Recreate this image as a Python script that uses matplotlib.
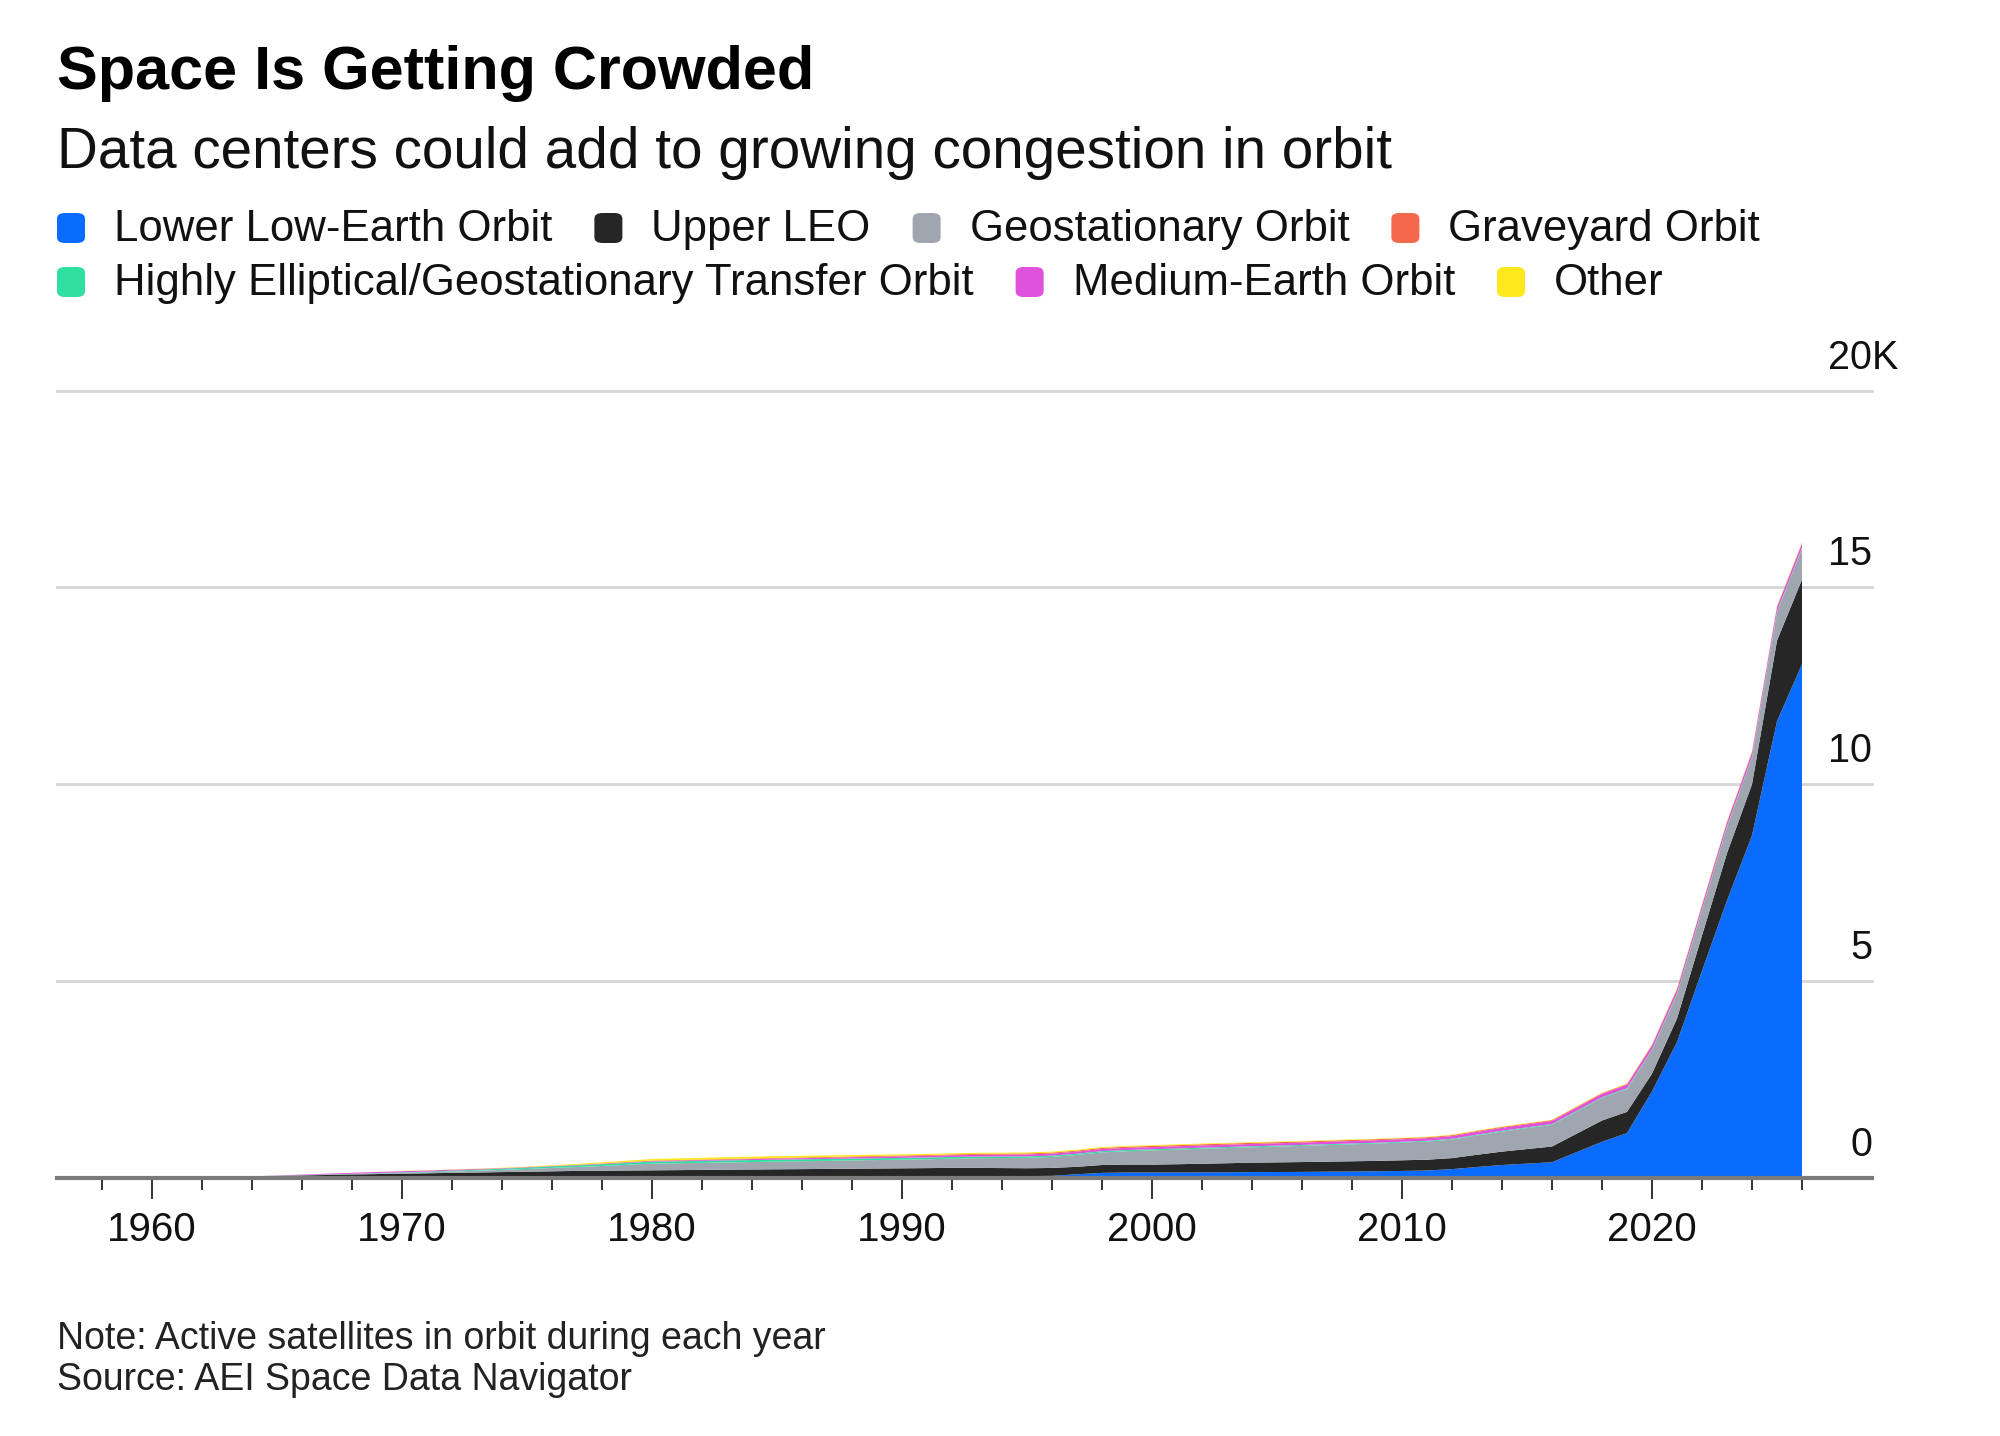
import matplotlib
matplotlib.use("Agg")
import matplotlib.pyplot as plt
import matplotlib.transforms as mtransforms
from matplotlib.patches import FancyBboxPatch

# active satellites in orbit per year, by orbit class
years = list(range(1957, 2027))

lower_leo = [
    1, 2, 4, 6, 10, 15, 20, 28, 35, 40,                 # 1957-1966
    42, 44, 45, 45, 45, 45, 45, 45, 45, 45,             # 1967-1976
    45, 45, 45, 45, 45, 46, 46, 46, 46, 46,             # 1977-1986
    46, 46, 46, 46, 46, 47, 47, 47, 48, 55,             # 1987-1996
    95, 130, 140, 140, 140, 142, 145, 150, 152, 155,    # 1997-2006
    160, 165, 170, 180, 190, 225, 280, 330, 365, 400,   # 2007-2016
    660, 920, 1140, 2200, 3450, 5260, 7050, 8700, 11600, 13050,  # 2017-2026
]
upper_leo = [
    0, 0, 1, 2, 3, 5, 8, 12, 18, 25,
    35, 45, 55, 65, 75, 85, 95, 105, 115, 125,
    135, 140, 145, 150, 155, 160, 165, 170, 175, 180,
    185, 190, 195, 200, 205, 210, 210, 205, 200, 200,
    190, 200, 200, 200, 210, 220, 230, 240, 245, 250,
    255, 260, 265, 270, 275, 280, 310, 340, 370, 400,
    470, 540, 540, 450, 600, 900, 1200, 1300, 2050, 2150,
]
geo = [
    0, 0, 0, 0, 0, 0, 0, 2, 4, 6,
    8, 10, 15, 20, 25, 35, 45, 55, 70, 85,
    100, 120, 145, 170, 175, 180, 185, 190, 195, 200,
    205, 210, 215, 220, 225, 235, 245, 255, 265, 280,
    300, 320, 340, 360, 370, 380, 385, 390, 400, 410,
    420, 430, 440, 450, 460, 470, 490, 510, 530, 550,
    560, 570, 580, 600, 620, 640, 660, 680, 720, 780,
]
heo_gto = [
    0, 0, 0, 0, 0, 0, 0, 0, 2, 4,
    6, 8, 10, 14, 18, 22, 26, 30, 34, 38,
    42, 45, 48, 50, 50, 50, 50, 50, 50, 48,
    48, 47, 46, 45, 44, 42, 40, 38, 36, 34,
    33, 32, 31, 30, 29, 28, 27, 26, 25, 24,
    23, 22, 21, 20, 20, 20, 20, 20, 20, 20,
    20, 20, 20, 20, 21, 22, 22, 23, 24, 25,
]
meo = [
    0, 0, 0, 0, 0, 0, 0, 0, 5, 12,
    20, 25, 28, 30, 28, 25, 20, 15, 12, 10,
    10, 12, 14, 16, 18, 20, 22, 25, 28, 30,
    32, 35, 38, 40, 42, 44, 46, 48, 50, 50,
    52, 54, 55, 55, 56, 57, 58, 59, 60, 61,
    62, 63, 64, 65, 67, 69, 72, 75, 78, 80,
    83, 86, 90, 95, 98, 100, 103, 105, 108, 110,
]
graveyard = [
    0, 0, 0, 0, 0, 0, 0, 0, 0, 0,
    0, 0, 0, 0, 0, 0, 0, 0, 2, 4,
    6, 8, 10, 12, 13, 14, 15, 16, 17, 18,
    18, 19, 19, 20, 21, 22, 23, 24, 25, 26,
    27, 28, 29, 30, 30, 30, 29, 29, 28, 28,
    27, 27, 26, 25, 24, 24, 23, 22, 21, 20,
    20, 19, 19, 18, 18, 17, 17, 16, 16, 15,
]
other = [
    0, 0, 0, 0, 0, 0, 0, 0, 0, 0,
    0, 0, 0, 5, 6, 7, 8, 10, 12, 16,
    22, 28, 34, 40, 42, 44, 45, 45, 45, 42,
    40, 36, 33, 30, 29, 28, 27, 26, 25, 24,
    23, 22, 21, 20, 19, 18, 17, 16, 15, 14,
    13, 13, 12, 12, 12, 11, 11, 10, 10, 10,
    10, 10, 10, 10, 11, 11, 12, 13, 14, 15,
]

# legend order (as shown) and stacking order (bottom -> top)
legend_rows = [
    ["Lower Low-Earth Orbit", "Upper LEO", "Geostationary Orbit", "Graveyard Orbit"],
    ["Highly Elliptical/Geostationary Transfer Orbit", "Medium-Earth Orbit", "Other"],
]
colors = {
    "Lower Low-Earth Orbit": "#0a6cff",
    "Upper LEO": "#262626",
    "Geostationary Orbit": "#9fa6af",
    "Graveyard Orbit": "#f4694e",
    "Highly Elliptical/Geostationary Transfer Orbit": "#2fe0a0",
    "Medium-Earth Orbit": "#df52dc",
    "Other": "#ffe81c",
}
stack_names = ["Lower Low-Earth Orbit", "Upper LEO", "Geostationary Orbit",
               "Highly Elliptical/Geostationary Transfer Orbit", "Medium-Earth Orbit",
               "Graveyard Orbit", "Other"]
stack_values = [lower_leo, upper_leo, geo, heo_gto, meo, graveyard, other]

ytick_vals = [0, 5000, 10000, 15000, 20000]
ytick_labels = ["0", "5", "10", "15", "20"]
xtick_vals = list(range(1960, 2021, 10))

W, H, DPI = 2000, 1436, 100
plt.rcParams["font.family"] = ["Liberation Sans", "DejaVu Sans"]


def fx(px):
    return px / W


def fy(py):
    return 1 - py / H


fig = plt.figure(figsize=(W / DPI, H / DPI), dpi=DPI)
fig.patch.set_facecolor("white")

# plot area: x 57..1872 px, y 390.6 (20K) .. 1178 (0)
ax = fig.add_axes([fx(57), fy(1178), (1872 - 57) / W, (1178 - 390.6) / H])
ax.stackplot(years, *stack_values, colors=[colors[n] for n in stack_names],
             linewidth=0, zorder=2)
ax.set_xlim(1956.2, 2028.8)
ax.set_ylim(0, 20000)

for v in ytick_vals[1:]:
    ax.axhline(v, color="#d6d6d6", lw=2.0, zorder=1, clip_on=False)

for side in ["top", "left", "right"]:
    ax.spines[side].set_visible(False)
ax.spines["bottom"].set_color("#7a7a7a")
ax.spines["bottom"].set_linewidth(3)
ax.spines["bottom"].set_zorder(3)

ax.set_yticks([])
ax.set_xticks(xtick_vals)
ax.set_xticklabels([str(x) for x in xtick_vals])
ax.set_xticks(range(1958, 2027, 2), minor=True)
ax.tick_params(axis="x", which="major", length=15, width=1.4, color="#333333",
               pad=8.5, labelsize=29, labelcolor="#111111")
ax.tick_params(axis="x", which="minor", length=8.6, width=1.4, color="#333333")

# y labels on the right, sitting above each gridline
ytrans = mtransforms.blended_transform_factory(ax.transAxes, ax.transData)
for v, lab in zip(ytick_vals, ytick_labels):
    ax.text(1.0, v + 560, lab, transform=ytrans, ha="right", va="baseline",
            fontsize=28.5, color="#111111", clip_on=False)
ax.text(1.0, ytick_vals[-1] + 560, "K", transform=ytrans, ha="left", va="baseline",
        fontsize=28.5, color="#111111", clip_on=False)

# title, subtitle
fig.text(fx(57), fy(89), "Space Is Getting Crowded", fontsize=44,
         fontweight="bold", color="#000000", va="baseline", ha="left")
fig.text(fx(57), fy(168), "Data centers could add to growing congestion in orbit",
         fontsize=40.8, color="#111111", va="baseline", ha="left")

# legend, laid out left to right with measured text widths
renderer = fig.canvas.get_renderer()
row_baselines = [241, 295]
for row, base in zip(legend_rows, row_baselines):
    x = 57
    for name in row:
        sq = FancyBboxPatch((fx(x), fy(base + 2)), fx(28), 30 / H,
                            boxstyle="round,pad=0,rounding_size=0.004",
                            transform=fig.transFigure, facecolor=colors[name],
                            edgecolor="none")
        fig.patches.append(sq)
        t = fig.text(fx(x + 57), fy(base), name, fontsize=31.5, color="#111111",
                     va="baseline", ha="left")
        bb = t.get_window_extent(renderer=renderer)
        x = bb.x1 + 42

# footer
fig.text(fx(57), fy(1349), "Note: Active satellites in orbit during each year",
         fontsize=27, color="#222222", va="baseline", ha="left")
fig.text(fx(57), fy(1390), "Source: AEI Space Data Navigator",
         fontsize=27, color="#222222", va="baseline", ha="left")

fig.savefig("out.png", dpi=DPI, facecolor="white")
